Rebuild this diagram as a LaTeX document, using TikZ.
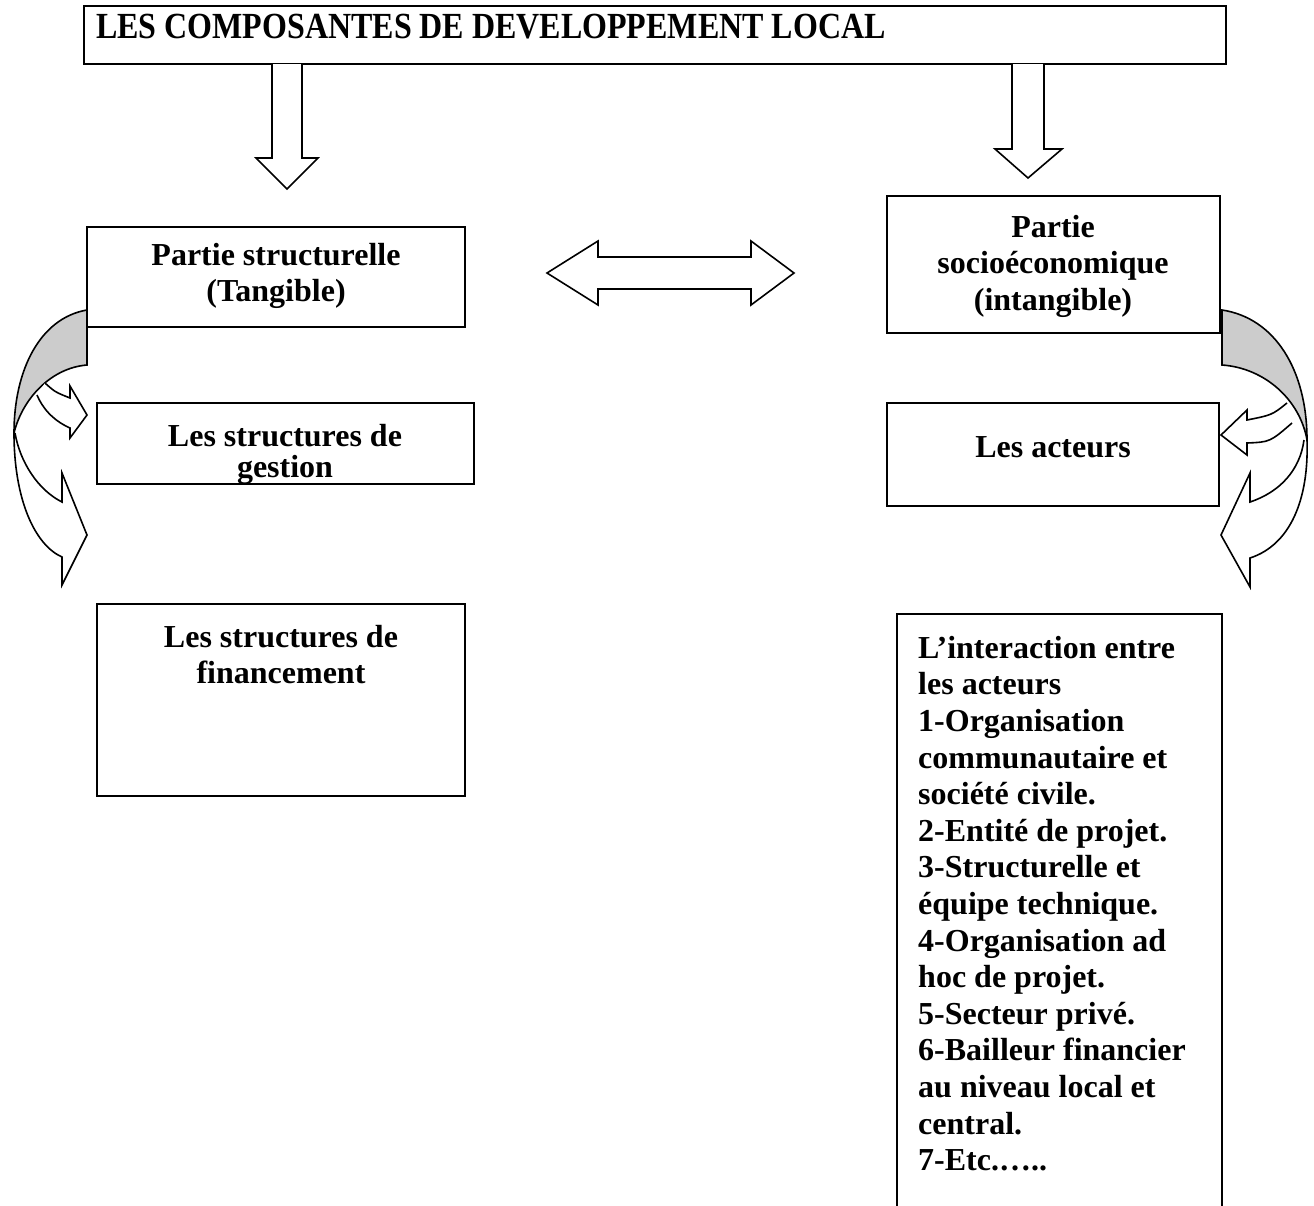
\documentclass[tikz,border=0pt]{standalone}
\usepackage{fontspec}
\setmainfont{Liberation Serif}
\begin{document}
\begin{tikzpicture}[x=1pt,y=-1pt,
  box/.style={draw, line width=1.8pt, inner sep=0pt},
  txt/.style={font=\fontsize{32}{36.6}\selectfont\bfseries, inner sep=0pt, align=center, anchor=north},
  txtl/.style={txt, align=left, anchor=north west},
  blk/.style={draw, line width=1.6pt, fill=white, line join=miter},
  band/.style={draw, line width=1.6pt, fill=black!20}]
\useasboundingbox (0,0) rectangle (1314,1205);

% boxes
\node[box, minimum width=1142pt, minimum height=58pt] (title) at (655,35) {};
\node[box, minimum width=378pt, minimum height=100pt] (ps) at (276,277) {};
\node[box, minimum width=333pt, minimum height=137pt] (pse) at (1053.5,264.5) {};
\node[box, minimum width=377pt, minimum height=81pt] (gest) at (285.5,443.5) {};
\node[box, minimum width=332pt, minimum height=103pt] (act) at (1053,454.5) {};
\node[box, minimum width=368pt, minimum height=192pt] (fin) at (281,700) {};
\node[box, minimum width=325pt, minimum height=606pt] (inter) at (1059.5,917) {};

% texts
\node[txt, anchor=base west] (titletxt) at (96,38) {\scalebox{1}[1.15]{LES COMPOSANTES DE DEVELOPPEMENT LOCAL}};
\node[txt] (pstxt) at (276,240) {\rule{0pt}{25pt}Partie structurelle\\(Tangible)};
\node[txt] (psetxt) at (1053,212) {\rule{0pt}{25pt}Partie\\socioéconomique\\(intangible)};
\node[txt, font=\fontsize{32}{31}\selectfont\bfseries] (gesttxt) at (285,421) {\rule{0pt}{25pt}Les structures de\\gestion};
\node[txt] (acttxt) at (1053,432) {\rule{0pt}{25pt}Les acteurs};
\node[txt] (fintxt) at (281,622) {\rule{0pt}{25pt}Les structures de\\financement};
\node[txtl] (intertxt) at (918,633) {\rule{0pt}{25pt}L’interaction entre\\les acteurs\\1-Organisation\\communautaire et\\société civile.\\2-Entité de projet.\\3-Structurelle et\\équipe technique.\\4-Organisation ad\\hoc de projet.\\5-Secteur privé.\\6-Bailleur financier\\au niveau local et\\central.\\7-Etc.…..};

% block arrows from the title
\filldraw[blk] (272,64) -- (272,158) -- (256,158) -- (287,189) -- (318,158) -- (302,158) -- (302,64);
\filldraw[blk] (1012,64) -- (1012,149) -- (995,149) -- (1028,178) -- (1062,149) -- (1044,149) -- (1044,64);

% double arrow between the two parts
\filldraw[blk] (547,273) -- (598,241) -- (598,257) -- (751,257) -- (751,241) -- (794,273)
  -- (751,305) -- (751,289) -- (598,289) -- (598,305) -- cycle;

% left curved arrows
\filldraw[band] (87,310) .. controls (40,318) and (14,370) .. (14,433)
  .. controls (22,400) and (50,368) .. (87,365) -- cycle;
\filldraw[blk] (14,433) .. controls (14,500) and (35,545) .. (62,557) -- (62,585) -- (87,535)
  -- (62,473) -- (62,502) .. controls (38,490) and (20,462) .. (15,433);
\filldraw[blk] (45,383) .. controls (55,392) .. (70,398) -- (70,386) -- (87,415) -- (70,438)
  -- (70,428) .. controls (52,420) and (42,407) .. (37,395);

% right curved arrows
\filldraw[band] (1222,310) .. controls (1275,318) and (1307,370) .. (1307,440)
  .. controls (1300,400) and (1265,368) .. (1222,365) -- cycle;
\filldraw[blk] (1307,440) .. controls (1309,500) and (1290,545) .. (1250,558) -- (1250,587) -- (1221,535)
  -- (1250,473) -- (1250,502) .. controls (1280,492) and (1300,470) .. (1304,440);
\filldraw[blk] (1287,403) .. controls (1272,415) .. (1247,420) -- (1247,410) -- (1221,435) -- (1247,455)
  -- (1247,443) .. controls (1270,442) .. (1292,423);
\end{tikzpicture}
\end{document}
